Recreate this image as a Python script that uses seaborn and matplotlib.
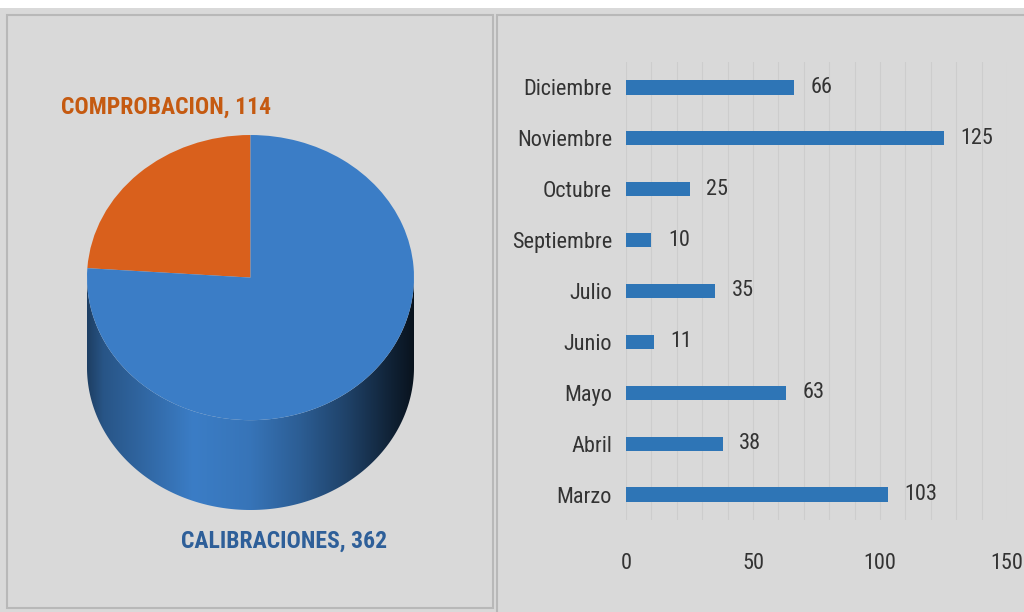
import matplotlib
matplotlib.use("Agg")
import matplotlib.pyplot as plt
import numpy as np
import seaborn as sns
from matplotlib.patches import Rectangle, Polygon
from matplotlib.colors import to_rgb
from matplotlib import font_manager

# data
pie_names = ["COMPROBACION", "CALIBRACIONES"]
pie_values = [114, 362]
pie_colors = ["#d9601c", "#3b7dc6"]
label_colors = ["#c55a11", "#2e5f99"]

months = ["Diciembre", "Noviembre", "Octubre", "Septiembre", "Julio",
          "Junio", "Mayo", "Abril", "Marzo"]
counts = [66, 125, 25, 10, 35, 11, 63, 38, 103]

# pick a narrow font if one is there
names = {f.name for f in font_manager.fontManager.ttflist}
narrow = [n for n in ["Liberation Sans Narrow", "DejaVu Sans Condensed", "Roboto Condensed",
                      "Open Sans Condensed", "Noto Sans Condensed"] if n in names]
plt.rcParams["font.family"] = narrow[:1] + ["DejaVu Sans"]
is_narrow = bool(narrow)
BG = "#d9d9d9"
TXT = "#333333"

fig = plt.figure(figsize=(10.24, 6.12), dpi=100, facecolor=BG)

# white strip on top + two panels (behind the axes)
fig.patches.append(Rectangle((0, 1 - 8 / 612), 1, 8 / 612, transform=fig.transFigure,
                             facecolor="white", edgecolor="none", zorder=-5))
fig.patches.append(Rectangle((7 / 1024, 4 / 612), 486 / 1024, 593 / 612, transform=fig.transFigure,
                             facecolor=BG, edgecolor="#b8b8b8", lw=1.5, zorder=-5))
fig.patches.append(Rectangle((497 / 1024, -0.01), 540 / 1024, 1 - 15 / 612 + 0.01,
                             transform=fig.transFigure,
                             facecolor=BG, edgecolor="#b8b8b8", lw=1.5, zorder=-5))

# ---- 3D-looking pie ----
depth = 0.63
axp = fig.add_axes([87 / 1024, 1 - 510 / 612, 327 / 1024, 375 / 612])
axp.set_facecolor("none")
wedges, _ = axp.pie(pie_values, colors=pie_colors, startangle=90, counterclock=True,
                    wedgeprops=dict(linewidth=0, zorder=3))
axp.set_aspect("auto")
axp.axis("off")
for w in wedges:
    w.set_clip_on(False)

# side of the cylinder with horizontal shading
shade_x = [-1.0, -0.9, -0.6, -0.35, 0.0, 0.3, 0.6, 0.85, 1.0]
shade_f = [0.5, 0.68, 0.85, 1.0, 0.93, 0.75, 0.52, 0.28, 0.15]
xs = np.linspace(-1, 1, 400)
fac = np.interp(xs, shade_x, shade_f)
for w, col in zip(wedges, pie_colors):
    t1, t2 = w.theta1, w.theta2
    ranges = []
    for a, b in [(t1, t2), (t1 - 360, t2 - 360)]:
        a2, b2 = max(a, 180), min(b, 360)
        if b2 > a2:
            ranges.append((a2, b2))
    base = np.array(to_rgb(col))
    img = np.clip(base[None, None, :] * fac[None, :, None], 0, 1)
    for a, b in ranges:
        th = np.radians(np.linspace(a, b, 200))
        top = np.column_stack([np.cos(th), np.sin(th)])
        bot = np.column_stack([np.cos(th), np.sin(th) - depth])[::-1]
        poly = Polygon(np.vstack([top, bot]), closed=True, facecolor="none",
                       edgecolor="none", transform=axp.transData)
        axp.add_patch(poly)
        im = axp.imshow(img, extent=[-1, 1, -1 - depth, 0], aspect="auto",
                        interpolation="bilinear", zorder=2)
        im.set_clip_path(poly)
axp.set_xlim(-1, 1)
axp.set_ylim(-1 - depth, 1)

lab_fs = 17 if is_narrow else 14
label_pos = [(-0.517, 1.196), (0.205, -1.849)]
for name, val, c, (lx, ly) in zip(pie_names, pie_values, label_colors, label_pos):
    axp.text(lx, ly, f"{name}, {val}", color=c, fontsize=lab_fs, fontweight="bold",
             ha="center", va="center", clip_on=False)

# ---- horizontal bars ----
fs = 16 if is_narrow else 14
axb = fig.add_axes([626 / 1024, 1 - 520 / 612, 381 / 1024, 458 / 612])
axb.set_facecolor("none")
sns.barplot(x=counts, y=months, orient="h", color="#2e75b6", width=0.28,
            saturation=1, ax=axb, zorder=3)
axb.set_xlim(0, 150)
axb.set_xticks([0, 50, 100, 150])
axb.set_xticks(np.arange(0, 151, 10), minor=True)
axb.grid(which="both", axis="x", color="#cdcdcd", lw=0.8, zorder=0)
axb.set_axisbelow(True)
for s in axb.spines.values():
    s.set_visible(False)
axb.tick_params(axis="x", which="both", length=0, pad=24, labelsize=fs, labelcolor=TXT)
axb.tick_params(axis="y", length=0, pad=10, labelsize=fs, labelcolor=TXT)
axb.set_xlabel("")
axb.set_ylabel("")
axb.bar_label(axb.containers[0], padding=12, fontsize=fs, color=TXT)

fig.savefig("out.png", dpi=100, facecolor=fig.get_facecolor())
